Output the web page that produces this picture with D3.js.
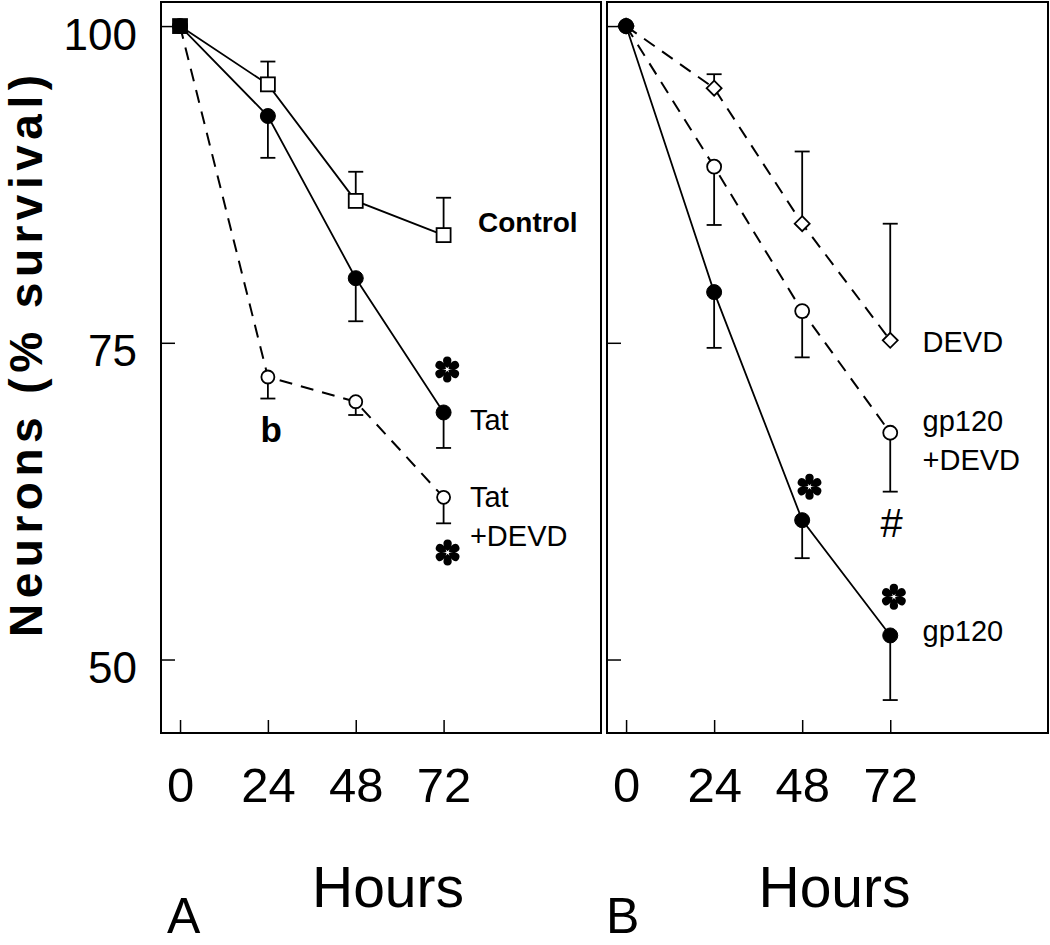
<!DOCTYPE html>
<html>
<head>
<meta charset="utf-8">
<script src="https://cdn.jsdelivr.net/npm/d3@7"></script>
<style>
  body { margin: 0; background: #fff; }
  text { font-family: "Liberation Sans", Arial, sans-serif; fill: #000; }
</style>
</head>
<body>
<script>
// ---------- data ----------
const hours = [0, 24, 48, 72];
const xTickLabels = ["0", "24", "48", "72"];
const yTicks = [50, 75, 100];
const yTickLabels = ["50", "75", "100"];

// Panel A
const controlMean = [100, 95.4, 86.2, 83.5];
const controlSem  = [0, 1.8, 2.3, 2.95];
const tatMean     = [100, 92.9, 80.1, 69.5];
const tatSem      = [0, 3.3, 3.4, 2.8];
const tatDevdMean = [100, 72.3, 70.35, 62.8];
const tatDevdSem  = [0, 1.7, 1.05, 2.05];

// Panel B
const devdMean    = [100, 95.1, 84.4, 75.2];
const devdSem     = [0, 1.1, 5.7, 9.2];
const gpDevdMean  = [100, 88.9, 77.5, 67.9];
const gpDevdSem   = [0, 4.6, 3.65, 4.65];
const gpMean      = [100, 79.0, 61.0, 51.9];
const gpSem       = [0, 4.4, 3.0, 5.1];

// series labels and annotation marks, placed in data units
const labelsA = [
  { lines: ["Control"], hour: 81.4, val: 83.74, bold: true },
  { lines: ["Tat"], hour: 79.2, val: 68.1 },
  { lines: ["Tat", "+DEVD"], hour: 79.2, val: 62.0 }
];
const labelsB = [
  { lines: ["DEVD"], hour: 80.8, val: 74.3 },
  { lines: ["gp120", "+DEVD"], hour: 80.8, val: 68.0 },
  { lines: ["gp120"], hour: 80.8, val: 51.5 }
];
const starsA = [ { hour: 73, val: 72.9 }, { hour: 73.1, val: 58.45 } ];
const starsB = [ { hour: 50, val: 63.64 }, { hour: 73, val: 54.96 } ];
const marksA = [ { text: "b", hour: 24.9, val: 67.2, bold: true } ];
const marksB = [ { text: "#", hour: 72.4, val: 59.7 } ];

// ---------- layout ----------
const W = 1050, H = 945;
const svg = d3.select("body").append("svg").attr("width", W).attr("height", H);

const y = d3.scaleLinear().domain([44.2, 101.9]).range([733, 2]);
const xDomain = [-5.2, 115];
const xA = d3.scaleLinear().domain(xDomain).range([161, 601]);
const xB = d3.scaleLinear().domain(xDomain).range([607, 1048]);

const panels = [
  {
    x: xA, showY: true, letter: "A", letterX: 167, letterY: 933,
    series: [
      { mean: tatDevdMean, sem: tatDevdSem, marker: "circle", r: 6.5, filled: false, dashed: true, dir: -1 },
      { mean: tatMean, sem: tatSem, marker: "circle", r: 7.5, filled: true, dashed: false, dir: -1 },
      { mean: controlMean, sem: controlSem, marker: "square", r: 7, filled: false, dashed: false, dir: 1 }
    ],
    labels: labelsA, stars: starsA, marks: marksA
  },
  {
    x: xB, showY: false, letter: "B", letterX: 606, letterY: 933,
    series: [
      { mean: devdMean, sem: devdSem, marker: "diamond", r: 7.5, filled: false, dashed: true, dir: 1 },
      { mean: gpDevdMean, sem: gpDevdSem, marker: "circle", r: 7, filled: false, dashed: true, dir: -1 },
      { mean: gpMean, sem: gpSem, marker: "circle", r: 7.5, filled: true, dashed: false, dir: -1 }
    ],
    labels: labelsB, stars: starsB, marks: marksB
  }
];

function asteriskPath(R, w) {
  let d = "";
  for (let k = 0; k < 6; k++) {
    const a = k * Math.PI / 3;
    const rot = (px, py) => {
      const c = Math.cos(a), s = Math.sin(a);
      return [(px * c - py * s).toFixed(2), (px * s + py * c).toFixed(2)].join(",");
    };
    d += "M" + rot(0, -R * 0.1) +
         "C" + rot(w, -R * 0.45) + " " + rot(w * 1.1, -R) + " " + rot(0, -R) +
         "C" + rot(-w * 1.1, -R) + " " + rot(-w, -R * 0.45) + " " + rot(0, -R * 0.1) + "Z";
  }
  return d;
}

panels.forEach(p => {
  const x = p.x;
  const g = svg.append("g");
  const [x0, x1] = x.range();

  // frame
  g.append("rect").attr("x", x0).attr("y", 2).attr("width", x1 - x0).attr("height", 731)
    .attr("fill", "none").attr("stroke", "#000").attr("stroke-width", 2);

  // y axis
  const ya = d3.axisLeft(y).tickValues(yTicks).tickSizeInner(-14).tickSizeOuter(0).tickPadding(24)
    .tickFormat((d, i) => p.showY ? yTickLabels[i] : "");
  const yg = g.append("g").attr("transform", `translate(${x0},0)`).call(ya);
  yg.select(".domain").remove();
  yg.selectAll("line").attr("stroke", "#000").attr("stroke-width", 1.5);
  yg.selectAll("text").attr("font-size", 44).attr("dy", 23)
    .attr("font-family", "Liberation Sans, Arial, sans-serif").attr("fill", "#000");

  // x axis
  const xa = d3.axisBottom(x).tickValues(hours).tickSizeInner(-13).tickSizeOuter(0)
    .tickFormat((d, i) => xTickLabels[i]);
  const xg = g.append("g").attr("transform", "translate(0,733)").call(xa);
  xg.select(".domain").remove();
  xg.selectAll("line").attr("stroke", "#000").attr("stroke-width", 1.5);
  xg.selectAll("text").attr("font-size", 49).attr("y", 68.7).attr("dy", 0)
    .attr("font-family", "Liberation Sans, Arial, sans-serif").attr("fill", "#000");

  // Hours label
  g.append("text").attr("x", (x0 + x1) / 2 + 7).attr("y", 906.7).attr("text-anchor", "middle")
    .attr("font-size", 57).text("Hours");
  // panel letter
  g.append("text").attr("x", p.letterX).attr("y", p.letterY).attr("font-size", 50).text(p.letter);

  const line = d3.line().x((d, i) => x(hours[i])).y(d => y(d));

  // lines
  p.series.forEach(s => {
    g.append("path").datum(s.mean).attr("d", line).attr("fill", "none")
      .attr("stroke", "#000").attr("stroke-width", s.dashed ? 2 : 1.8)
      .attr("stroke-dasharray", s.dashed ? "13,9" : null);
  });

  // error bars (one-sided)
  p.series.forEach(s => {
    s.mean.forEach((m, i) => {
      if (!s.sem[i]) return;
      const cx = x(hours[i]);
      const yEnd = y(m + s.dir * s.sem[i]);
      g.append("line").attr("x1", cx).attr("x2", cx).attr("y1", y(m)).attr("y2", yEnd)
        .attr("stroke", "#000").attr("stroke-width", 1.8);
      g.append("line").attr("x1", cx - 7.5).attr("x2", cx + 7.5).attr("y1", yEnd).attr("y2", yEnd)
        .attr("stroke", "#000").attr("stroke-width", 1.8);
    });
  });

  // markers
  p.series.forEach(s => {
    s.mean.forEach((m, i) => {
      const cx = x(hours[i]), cy = y(m);
      const fill = (s.filled || hours[i] === 0) ? "#000" : "#fff";
      let el;
      if (s.marker === "circle") {
        el = g.append("circle").attr("cx", cx).attr("cy", cy).attr("r", s.r);
      } else if (s.marker === "square") {
        el = g.append("rect").attr("x", cx - s.r).attr("y", cy - s.r)
          .attr("width", 2 * s.r).attr("height", 2 * s.r);
      } else {
        const r = s.r;
        el = g.append("path").attr("d", `M${cx},${cy - r}L${cx + r},${cy}L${cx},${cy + r}L${cx - r},${cy}Z`);
      }
      el.attr("fill", fill).attr("stroke", "#000").attr("stroke-width", s.filled ? 1 : 1.8);
    });
  });

  // series labels
  p.labels.forEach(l => {
    const t = g.append("text").attr("x", x(l.hour)).attr("y", y(l.val))
      .attr("font-size", l.bold ? 28 : 29).attr("font-weight", l.bold ? "bold" : "normal");
    l.lines.forEach((ln, k) => {
      t.append("tspan").attr("x", x(l.hour)).attr("dy", k === 0 ? 0 : 38.5).text(ln);
    });
  });

  // asterisks
  p.stars.forEach(s => {
    g.append("path").attr("transform", `translate(${x(s.hour)},${y(s.val)})`)
      .attr("d", asteriskPath(13, 5.3)).attr("fill", "#000");
  });

  // other marks
  p.marks.forEach(m => {
    g.append("text").attr("x", x(m.hour)).attr("y", y(m.val)).attr("text-anchor", "middle")
      .attr("font-size", m.bold ? 35 : 40).attr("font-weight", m.bold ? "bold" : "normal").text(m.text);
  });
});

// y axis title
svg.append("text")
  .attr("transform", "translate(42,356) rotate(-90)")
  .attr("text-anchor", "middle")
  .attr("font-size", 46).attr("font-weight", "bold")
  .attr("textLength", 562).attr("lengthAdjust", "spacing")
  .text("Neurons (% survival)");
</script>
</body>
</html>
